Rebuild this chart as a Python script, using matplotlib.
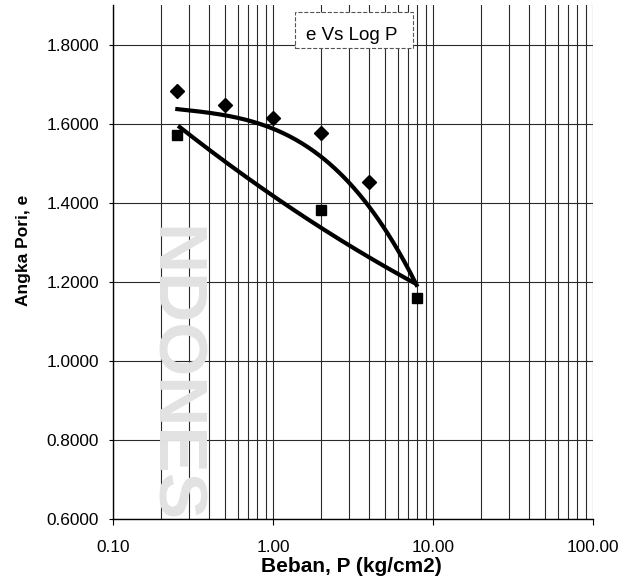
import numpy as np
import matplotlib
matplotlib.use('Agg')
import matplotlib.pyplot as plt
import matplotlib.patches as mpatches
from matplotlib.ticker import FixedLocator, LogLocator, NullFormatter, FormatStrFormatter

plt.rcParams['font.family'] = ['Liberation Sans', 'DejaVu Sans']

# ── data ──
beban_load = [0.25, 0.5, 1.0, 2.0, 4.0]          # diamonds
e_load     = [1.682, 1.647, 1.615, 1.575, 1.452]
beban_sq   = [0.25, 2.0, 8.0]                     # squares
e_sq       = [1.570, 1.382, 1.159]

# points
curve_up_x = [0.245, 0.5, 1.0, 1.15, 2.0, 3.0, 4.0, 5.0, 6.0, 7.0, 8.0]
curve_up_y = [1.638, 1.619, 1.590, 1.575, 1.514, 1.453, 1.396, 1.328, 1.273, 1.234, 1.192]
curve_lo_x = [0.255, 0.63, 1.0, 2.0, 3.0, 4.0, 5.0, 6.0, 8.0]
curve_lo_y = [1.592, 1.485, 1.410, 1.332, 1.294, 1.264, 1.238, 1.221, 1.192]

x_ticks = [0.1, 1, 10, 100]
y_ticks = [0.6, 0.8, 1.0, 1.2, 1.4, 1.6, 1.8]

W, H = 635, 581
fig = plt.figure(figsize=(W / 100, H / 100), dpi=100)
fig.patch.set_facecolor('white')

# faint scanned watermark behind the chart
fig.text(172 / W, 1 - 375 / H, 'NDONES', rotation=-90, ha='center', va='center',
         fontsize=50, fontweight='bold', color='#e2e2e2', zorder=0)

ax = fig.add_axes([113 / W, 1 - 519 / H, 480 / W, 514 / H])
ax.set_facecolor('none')

# smooth trend curves through the traced points (fit in log-x)
def smooth(xs, ys, deg):
    lx = np.log10(xs)
    coef = np.polyfit(lx, ys, deg)
    xx = np.linspace(lx.min(), lx.max(), 200)
    return 10 ** xx, np.polyval(coef, xx)

ux, uy = smooth(curve_up_x, curve_up_y, 3)
lx, ly = smooth(curve_lo_x, curve_lo_y, 2)
ax.plot(ux, uy, color='black', lw=3, solid_capstyle='butt', zorder=3)
ax.plot(lx, ly, color='black', lw=3, solid_capstyle='butt', zorder=3)

ax.plot(beban_load, e_load, ls='none', marker='D', ms=7, color='black', zorder=4)
ax.plot(beban_sq, e_sq, ls='none', marker='s', ms=7.5, color='black', zorder=4)

ax.set_xscale('log')
ax.set_xlim(0.1, 100)
ax.set_ylim(0.6, 1.9)

ax.xaxis.set_major_locator(FixedLocator(x_ticks))
ax.xaxis.set_minor_locator(LogLocator(base=10, subs=np.arange(2, 10)))
ax.xaxis.set_minor_formatter(NullFormatter())
ax.xaxis.set_major_formatter(FormatStrFormatter('%.2f'))
ax.yaxis.set_major_locator(FixedLocator(y_ticks))
ax.yaxis.set_major_formatter(FormatStrFormatter('%.4f'))

ax.grid(which='both', axis='x', color='#2a2a2a', lw=0.8)
ax.grid(which='major', axis='y', color='#2a2a2a', lw=0.8)
ax.set_axisbelow(True)

ax.tick_params(axis='x', which='major', length=4, width=0.8, pad=11, labelsize=12.4)
ax.tick_params(axis='x', which='minor', length=0)
ax.tick_params(axis='y', which='major', length=3, width=0.8, pad=7, labelsize=12.4)

for side in ['top', 'right']:
    ax.spines[side].set_visible(False)
for side in ['left', 'bottom']:
    ax.spines[side].set_color('black')
    ax.spines[side].set_linewidth(1.0)

ax.set_xlabel('Beban, P (kg/cm2)', fontsize=15, fontweight='bold')
ax.xaxis.set_label_coords(0.496, -0.074)
ax.set_ylabel('Angka Pori, e', fontsize=12.5, fontweight='bold')
ax.yaxis.set_label_coords(-0.171, 0.523)

# title box
ax.add_patch(mpatches.Rectangle((0.379, 0.916), 0.246, 0.070, transform=ax.transAxes,
                                facecolor='white', edgecolor='#555555', ls='--', lw=0.8,
                                zorder=5, clip_on=False))
ax.text(0.497, 0.932, 'e Vs Log P', transform=ax.transAxes, ha='center', va='baseline',
        fontsize=13.5, zorder=6)

plt.savefig('out.png', dpi=100, facecolor='white')
plt.close()
